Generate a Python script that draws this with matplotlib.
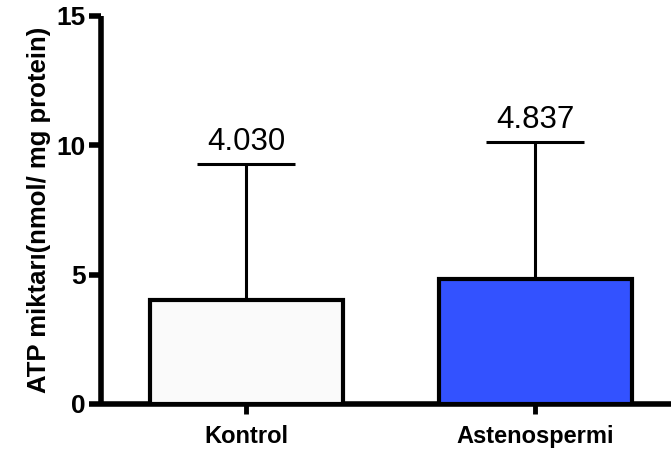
import matplotlib

matplotlib.use("Agg", force=True)
import matplotlib.pyplot as plt
import numpy as np

groups = ["Kontrol", "Astenospermi"]
means = [4.030, 4.837]
sd_upper = [5.24, 5.29]
fills = ["#FAFAFA", "#3352FF"]
y_ticks = [0, 5, 10, 15]

plt.rcParams["font.family"] = ["Liberation Sans", "DejaVu Sans"]

fig = plt.figure(figsize=(6.71, 4.57), dpi=100)
ax = fig.add_axes([0.150, 0.116, 0.850, 0.849])

x = np.arange(len(groups))
ax.bar(x, means, width=0.668, color=fills, edgecolor="black", linewidth=3.0, zorder=3)
ax.errorbar(x, means, yerr=[np.zeros(len(means)), sd_upper], fmt="none",
            ecolor="black", elinewidth=2.2, capsize=35, capthick=2.2, zorder=2)

for xi, m, e in zip(x, means, sd_upper):
    ax.annotate(f"{m:.3f}", (xi, m + e), xytext=(0, 5), textcoords="offset points",
                ha="center", va="bottom", fontsize=22.5)

ax.set_xlim(-0.505, 1.47)
ax.set_ylim(0, 15)
ax.set_xticks(x)
ax.set_xticklabels(groups, fontsize=17, fontweight="bold")
ax.set_yticks(y_ticks)
ax.set_yticklabels([str(t) for t in y_ticks], fontsize=19, fontweight="bold")
ax.set_ylabel("ATP miktarı(nmol/ mg protein)", fontsize=18.5, fontweight="bold", labelpad=4)

for side in ("top", "right"):
    ax.spines[side].set_visible(False)
for side in ("left", "bottom"):
    ax.spines[side].set_linewidth(4)
    ax.spines[side].set_capstyle("butt")
ax.tick_params(axis="y", length=9, width=4, pad=2)
ax.tick_params(axis="x", length=7, width=3.5, pad=8)

fig.savefig("out.png", dpi=100)
